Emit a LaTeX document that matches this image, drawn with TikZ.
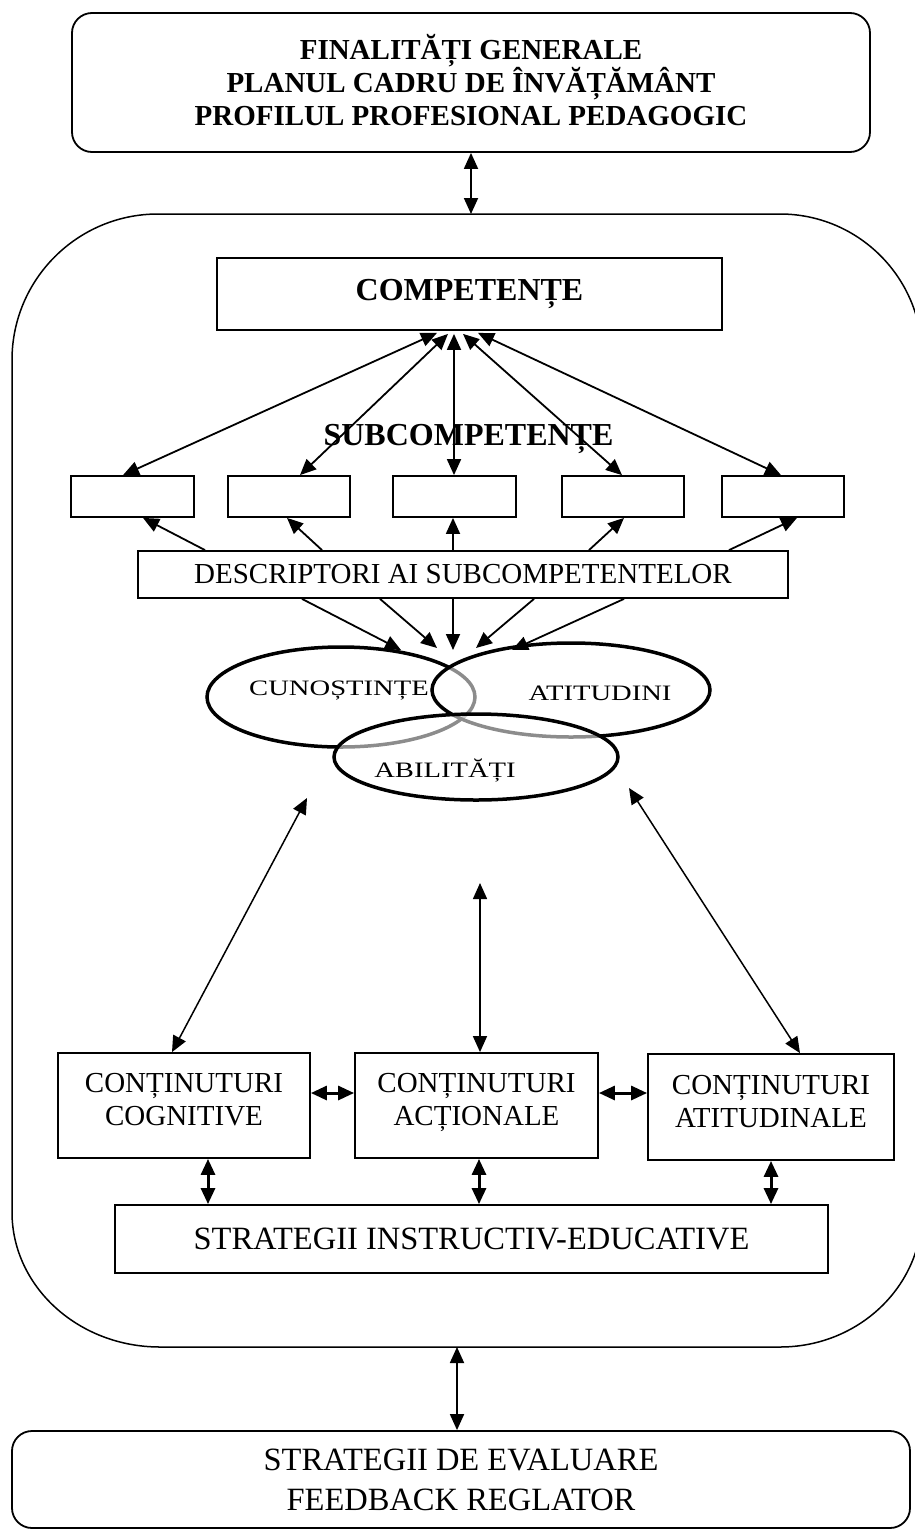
\documentclass[tikz,border=0pt]{standalone}
\usepackage{fontspec}
\setmainfont{Liberation Serif}
\newfontfamily\widefont[FakeStretch=1.3]{Liberation Serif}
\usetikzlibrary{arrows.meta,shapes.geometric,calc}
\tikzset{
  box/.style={draw, line width=1.8pt, inner sep=0pt, align=center, font=\fontsize{29}{33}\selectfont},
  rbox/.style={box, rounded corners=20pt},
  dbl/.style={{Triangle[length=16pt,width=14pt]}-{Triangle[length=16pt,width=14pt]}, line width=1.8pt},
  sgl/.style={-{Triangle[length=16pt,width=14pt]}, line width=1.8pt},
  ell/.style={draw, ellipse, line width=3.5pt, inner sep=0pt},
  semi/.style={fill=white, fill opacity=0.55},
  elltext/.style={font=\widefont\fontsize{22}{22}\selectfont, anchor=base, inner sep=0pt},
  head/.style={font=\bfseries\fontsize{32}{36}\selectfont, inner sep=0pt},
  bigtext/.style={font=\fontsize{32.5}{40}\selectfont}
}
\begin{document}
\begin{tikzpicture}[x=1pt,y=-1pt]
\useasboundingbox (0,0) rectangle (914,1529);
% top box
\node[rbox, minimum width=798pt, minimum height=139pt, font=\bfseries\fontsize{29}{33}\selectfont] (top) at (471,82.5)
  {FINALITĂȚI GENERALE\\PLANUL CADRU DE ÎNVĂȚĂMÂNT\\PROFILUL PROFESIONAL PEDAGOGIC\vspace{5pt}};
% big container
\draw[line width=1.5pt] (12,360) .. controls (12,279.4) and (77.4,214) .. (158,214) -- (780,214)
  .. controls (858.4,214) and (922,277.6) .. (922,356) -- (922,1212)
  .. controls (922,1286.6) and (858.4,1347) .. (780,1347) -- (160,1347)
  .. controls (78.3,1347) and (12,1286.6) .. (12,1212) -- cycle;
\coordinate (bigtop) at (471,214);
\coordinate (bigbot) at (457,1347);
\draw[dbl] (top.south -| bigtop) -- (bigtop);
% competente
\node[box, minimum width=505pt, minimum height=72pt, font=\bfseries\fontsize{32}{36}\selectfont] (comp) at (469.5,294) {COMPETENȚE};
\node[head, anchor=base] (subl) at (468.5,445) {SUBCOMPETENȚE};
% sub boxes
\node[box, minimum width=123pt, minimum height=41pt] (s1) at (132.5,496.5) {};
\node[box, minimum width=122pt, minimum height=41pt] (s2) at (289,496.5) {};
\node[box, minimum width=123pt, minimum height=41pt] (s3) at (454.5,496.5) {};
\node[box, minimum width=122pt, minimum height=41pt] (s4) at (623,496.5) {};
\node[box, minimum width=122pt, minimum height=41pt] (s5) at (783,496.5) {};
\draw[dbl] ($(comp.south)+(-32.5,2)$) -- ($(s1.north)+(-9.5,0)$);
\draw[dbl] ($(comp.south)+(-21.5,3)$) -- ($(s2.north)+(11,0)$);
\draw[dbl] ($(comp.south)+(-15.5,3)$) -- ($(s3.north)+(-0.5,0)$);
\draw[dbl] ($(comp.south)+(-6.5,3)$) -- ($(s4.north)+(-1,0)$);
\draw[dbl] ($(comp.south)+(8.5,2)$) -- ($(s5.north)+(-2,0)$);
% descriptors
\node[box, minimum width=650pt, minimum height=47pt] (desc) at (463,574.5) {DESCRIPTORI AI SUBCOMPETENTELOR};
\draw[sgl] ($(desc.north)+(-258,0)$) -- ($(s1.south)+(10.5,0)$);
\draw[sgl] ($(desc.north)+(-141,0)$) -- ($(s2.south)+(-2,0)$);
\draw[sgl] ($(desc.north)+(-10,0)$) -- ($(s3.south)+(-1.5,0)$);
\draw[sgl] ($(desc.north)+(126,0)$) -- ($(s4.south)+(1,0)$);
\draw[sgl] ($(desc.north)+(266,0)$) -- ($(s5.south)+(14,0)$);
% ellipses
\node[ell, minimum width=268pt, minimum height=100pt] (e1) at (341,697) {};
\node[ell, semi, minimum width=278pt, minimum height=94pt] (e2) at (571,690) {};
\node[ell, semi, minimum width=284pt, minimum height=86pt] (e3) at (476,757) {};
\node[elltext] (t1) at (339,695) {CUNOȘTINȚE};
\node[elltext] (t2) at (600,700) {ATITUDINI};
\node[elltext] (t3) at (445,777) {ABILITĂȚI};
% convergence points
\coordinate (v1) at (401,650);
\coordinate (v2) at (437,648);
\coordinate (v3) at (453,650);
\coordinate (v4) at (476,648);
\coordinate (v5) at (512,650);
\draw[sgl] ($(desc.south)+(-161,0)$) -- (v1);
\draw[sgl] ($(desc.south)+(-83,0)$) -- (v2);
\draw[sgl] ($(desc.south)+(-10,0)$) -- (v3);
\draw[sgl] ($(desc.south)+(71,0)$) -- (v4);
\draw[sgl] ($(desc.south)+(161,0)$) -- (v5);
% contents
\node[box, minimum width=252pt, minimum height=105pt] (ca) at (184,1105.5) {CONȚINUTURI\\COGNITIVE\vphantom{Ț}\vspace{6pt}};
\node[box, minimum width=243pt, minimum height=105pt] (cb) at (476.5,1105.5) {CONȚINUTURI\\ACȚIONALE\vspace{6pt}};
\node[box, minimum width=246pt, minimum height=106pt] (cc) at (771,1107) {CONȚINUTURI\\ATITUDINALE\vphantom{Ț}\vspace{6pt}};
\coordinate (l1) at (307,798);
\coordinate (m1) at (480,883);
\coordinate (r1) at (629,788);
\draw[dbl, line width=1.5pt] (l1) -- ($(ca.north)+(-12,0)$);
\draw[dbl, line width=1.5pt] (m1) -- ($(cb.north)+(3.5,0)$);
\draw[dbl, line width=1.5pt] (r1) -- ($(cc.north)+(29,0)$);
\draw[dbl, line width=3pt] ($(ca.east)+(0,-12.5)$) -- ($(cb.west)+(0,-12.5)$);
\draw[dbl, line width=3pt] ($(cb.east)+(0,-12.5)$) -- ($(cc.west)+(0,-14)$);
% strategii
\node[box, bigtext, minimum width=713pt, minimum height=68pt] (str) at (471.5,1239) {STRATEGII INSTRUCTIV-EDUCATIVE};
\draw[dbl, line width=3pt] ($(ca.south)+(24,0)$) -- (str.north -| {$(ca.south)+(24,0)$});
\draw[dbl, line width=3pt] ($(cb.south)+(2.5,0)$) -- (str.north -| {$(cb.south)+(2.5,0)$});
\draw[dbl, line width=3pt] (cc.south) -- (str.north -| cc.south);
% bottom box
\node[rbox, bigtext, minimum width=898pt, minimum height=97pt] (bot) at (461,1479.5)
  {STRATEGII DE EVALUARE\\FEEDBACK REGLATOR};
\draw[dbl] (bigbot) -- (bot.north -| bigbot);
\end{tikzpicture}
\end{document}
